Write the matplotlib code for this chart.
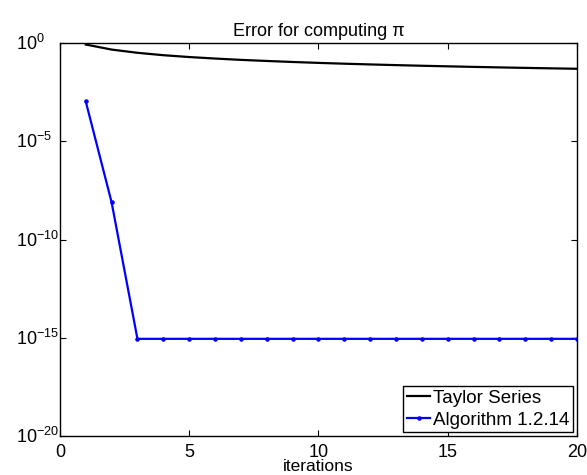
import matplotlib
matplotlib.use('Agg')
import matplotlib.pyplot as plt
import matplotlib.transforms as mtransforms

plt.rcParams['font.family'] = ['Liberation Sans', 'DejaVu Sans']
plt.rcParams['mathtext.fontset'] = 'custom'
plt.rcParams['mathtext.rm'] = 'Liberation Sans'
plt.rcParams['mathtext.it'] = 'Liberation Sans:italic'

# Data
iterations = list(range(1, 21))
taylor_err = [0.858, 0.475, 0.325, 0.246, 0.198, 0.166, 0.142, 0.125, 0.111, 0.0998,
              0.0907, 0.0832, 0.0768, 0.0713, 0.0666, 0.0624, 0.0588, 0.0555, 0.0526, 0.0500]
algo_err = [1.1e-3, 8.0e-9] + [8.9e-16] * 18

fig = plt.figure(figsize=(5.87, 4.75), dpi=100)
ax = fig.add_axes([0.102, 0.082, 0.881, 0.827])

ax.semilogy(iterations, taylor_err, color='k', lw=1.6, label='Taylor Series')
ax.semilogy(iterations, algo_err, color='b', lw=1.6, marker='.', ms=4.5, label='Algorithm 1.2.14')

ax.set_xlim(0, 20)
ax.set_ylim(1e-20, 1e0)
ax.set_xticks([0, 5, 10, 15, 20])
ax.set_yticks([1e0, 1e-5, 1e-10, 1e-15, 1e-20])
ax.minorticks_off()
ax.tick_params(direction='in', top=True, right=True, length=4)
# MATLAB-style: the "10" bases line up, exponents stick out to the right
ax.tick_params(axis='y', labelsize=13, pad=31.5)
off = mtransforms.ScaledTranslation(0, -7 / 100, fig.dpi_scale_trans)
for lbl in ax.get_yticklabels():
    lbl.set_horizontalalignment('left')
    lbl.set_verticalalignment('baseline')
    lbl.set_transform(lbl.get_transform() + off)
ax.tick_params(axis='x', labelsize=13, pad=5.5)
for s in ax.spines.values():
    s.set_linewidth(1.0)

ax.set_title('Error for computing π', fontsize=13, pad=5)
ax.set_xlabel('iterations', fontsize=12.5, labelpad=-1.2)
leg = ax.legend(loc='lower right', fontsize=13.5, fancybox=False, framealpha=1,
                edgecolor='k', borderaxespad=0.2, handlelength=1.25,
                borderpad=0.2, labelspacing=0.25, handletextpad=0.15)
leg.get_frame().set_linewidth(1.0)

plt.savefig('out.png', dpi=100)
